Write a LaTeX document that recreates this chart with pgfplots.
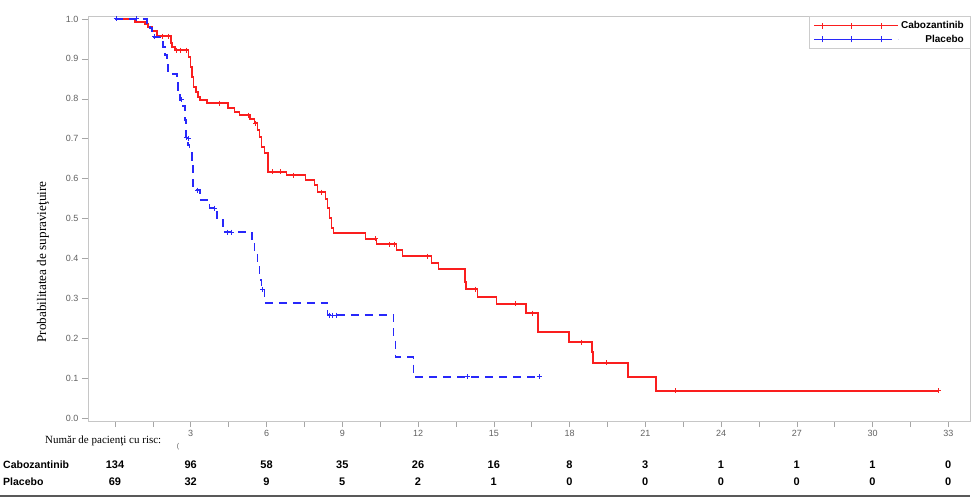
\documentclass[border=0pt]{standalone}
\usepackage{pgfplots}
\pgfplotsset{compat=1.18}
\usepackage{fontspec}
\setmainfont{Liberation Sans}
\newfontfamily\seriffont{Liberation Serif}
\definecolor{kmred}{RGB}{250,30,30}
\definecolor{kmblue}{RGB}{40,40,250}
\begin{document}
\begin{tikzpicture}[x=1pt,y=1pt]
\useasboundingbox (0pt,0pt) rectangle (977pt,-500pt);
\begin{axis}[
  at={(88pt,-421pt)}, anchor=south west,
  scale only axis, width=882pt, height=405pt,
  xmin=-1.069, xmax=33.86, ymin=-0.0075, ymax=1.0075,
  axis line style={gray!45},
  tick pos=left, tick align=outside,
  xtick={3,6,9,12,15,18,21,24,27,30,33},
  minor xtick={0,1.5,4.5,7.5,10.5,13.5,16.5,19.5,22.5,25.5,28.5,31.5},
  ytick={0,0.1,0.2,0.3,0.4,0.5,0.6,0.7,0.8,0.9,1.0},
  major tick length=6pt, minor tick length=6pt,
  tick style={gray!70, line width=0.5pt},
  ticklabel style={font=\fontsize{9}{10}\selectfont, text=gray!75!black},
  /pgf/number format/assume math mode=true,
  yticklabel style={/pgf/number format/fixed, /pgf/number format/fixed zerofill, /pgf/number format/precision=1},
  clip=false,
  legend style={at={(1,1)}, anchor=north east, draw=gray!40, fill=white,
    font=\fontsize{10}{12}\selectfont\bfseries, inner xsep=4pt, inner ysep=3pt,
    row sep=1pt},
  legend cell align=right,
  legend image code/.code={
    \path (-8pt,0pt) -- (76pt,0pt);
    \draw[#1] (0pt,0pt) -- (59pt,0pt);
    \draw[#1,solid,line width=1.2pt] (-3pt,0pt) -- (3pt,0pt) (0pt,-3pt) -- (0pt,3pt);
    \draw[#1,solid,line width=1.2pt] (26pt,0pt) -- (32pt,0pt) (29pt,-3pt) -- (29pt,3pt);
    \draw[#1,solid,line width=1.2pt] (56pt,0pt) -- (62pt,0pt) (59pt,-3pt) -- (59pt,3pt);
  },
]
% Cabozantinib
\addplot[const plot, kmred, line width=1.5pt, mark=none] coordinates {
(0,1.0) (0.79,0.992) (1.19,0.987) (1.30,0.980) (1.46,0.970) (1.66,0.957)
(2.21,0.940) (2.25,0.930) (2.37,0.922) (2.92,0.905) (3.00,0.880) (3.04,0.855)
(3.10,0.830) (3.20,0.817) (3.28,0.805) (3.36,0.797) (3.64,0.789) (4.47,0.777)
(4.74,0.767) (4.94,0.759) (5.34,0.749) (5.53,0.739) (5.65,0.722) (5.73,0.704)
(5.81,0.679) (5.93,0.664) (6.05,0.617) (6.80,0.609) (7.55,0.596) (7.91,0.584)
(8.02,0.566) (8.34,0.549) (8.42,0.526) (8.50,0.501) (8.58,0.476) (8.66,0.464)
(9.92,0.449) (10.36,0.436) (11.15,0.421) (11.38,0.406) (12.53,0.388) (12.81,0.373)
(13.87,0.341) (13.91,0.323) (14.35,0.303) (15.10,0.286) (16.28,0.263) (16.76,0.216)
(17.98,0.190) (18.89,0.165) (18.93,0.138) (20.32,0.103) (21.42,0.068) (32.6,0.068)
};
\addlegendentry{Cabozantinib}
% Placebo
\addplot[const plot, kmblue, line width=1.5pt, dash pattern=on 8pt off 6pt, mark=none] coordinates {
(0,1.0) (1.26,0.990) (1.38,0.977) (1.46,0.967) (1.50,0.955) (1.90,0.930)
(1.98,0.910) (2.06,0.887) (2.09,0.862) (2.45,0.847) (2.49,0.822) (2.57,0.797)
(2.69,0.782) (2.77,0.747) (2.81,0.704) (2.89,0.684) (2.96,0.664) (3.04,0.647)
(3.08,0.571) (3.36,0.546) (3.75,0.526) (4.03,0.496) (4.27,0.466) (5.42,0.439)
(5.53,0.414) (5.65,0.378) (5.73,0.346) (5.81,0.321) (5.93,0.288) (8.42,0.258)
(11.03,0.203) (11.10,0.153) (11.82,0.103) (16.8,0.103)
};
\addlegendentry{Placebo}
% censor marks
\addplot[only marks, kmred, mark=+, mark size=2.5pt, line width=1pt, forget plot] coordinates {
(1.90,0.957) (2.13,0.957) (2.45,0.922) (2.61,0.922) (2.85,0.922) (4.15,0.789)
(5.30,0.759) (5.57,0.739) (6.25,0.617) (6.56,0.617) (7.06,0.609) (8.18,0.566)
(10.32,0.449) (10.87,0.436) (11.07,0.436) (12.37,0.406) (14.27,0.323) (15.85,0.286)
(16.52,0.263) (18.46,0.190) (19.45,0.138) (22.21,0.068) (32.6,0.068)
};
\addplot[only marks, kmblue, mark=+, mark size=2.5pt, line width=1pt, forget plot] coordinates {
(0.04,1.0) (0.87,1.0) (1.58,0.955) (2.65,0.797) (2.85,0.704) (2.90,0.700)
(3.28,0.571) (3.95,0.526) (4.47,0.466) (4.62,0.466) (5.85,0.321) (8.50,0.258)
(8.62,0.258) (8.77,0.258) (13.95,0.103) (16.8,0.103)
};
% risk table numbers
\begin{scope}[every node/.style={font=\fontsize{11}{13}\selectfont\bfseries, inner sep=0pt}]
\node at (axis cs:0,-0.1178) {134};
\node at (axis cs:3,-0.1178) {96};
\node at (axis cs:6,-0.1178) {58};
\node at (axis cs:9,-0.1178) {35};
\node at (axis cs:12,-0.1178) {26};
\node at (axis cs:15,-0.1178) {16};
\node at (axis cs:18,-0.1178) {8};
\node at (axis cs:21,-0.1178) {3};
\node at (axis cs:24,-0.1178) {1};
\node at (axis cs:27,-0.1178) {1};
\node at (axis cs:30,-0.1178) {1};
\node at (axis cs:33,-0.1178) {0};
\node at (axis cs:0,-0.1604) {69};
\node at (axis cs:3,-0.1604) {32};
\node at (axis cs:6,-0.1604) {9};
\node at (axis cs:9,-0.1604) {5};
\node at (axis cs:12,-0.1604) {2};
\node at (axis cs:15,-0.1604) {1};
\node at (axis cs:18,-0.1604) {0};
\node at (axis cs:21,-0.1604) {0};
\node at (axis cs:24,-0.1604) {0};
\node at (axis cs:27,-0.1604) {0};
\node at (axis cs:30,-0.1604) {0};
\node at (axis cs:33,-0.1604) {0};
\end{scope}
\end{axis}
% axis title
\node[rotate=90, font=\seriffont\fontsize{13.2}{15}\selectfont, inner sep=0pt] at (43pt,-262pt) {Probabilitatea de supravieţuire};
% risk table header and rows
\node[anchor=west, font=\seriffont\fontsize{11}{13}\selectfont, inner sep=0pt] at (45pt,-441pt) {Număr de pacienţi cu risc:};
\node[font=\fontsize{7}{8}\selectfont, text=gray!70!black, inner sep=0pt] at (178pt,-447pt) {(};
\node[anchor=west, font=\fontsize{10.5}{12}\selectfont\bfseries, inner sep=0pt] at (3pt,-465pt) {Cabozantinib};
\node[anchor=west, font=\fontsize{10.5}{12}\selectfont\bfseries, inner sep=0pt] at (3pt,-482pt) {Placebo};
\draw[gray!70!black, line width=2pt] (0pt,-496pt) -- (970pt,-496pt);
\end{tikzpicture}
\end{document}
